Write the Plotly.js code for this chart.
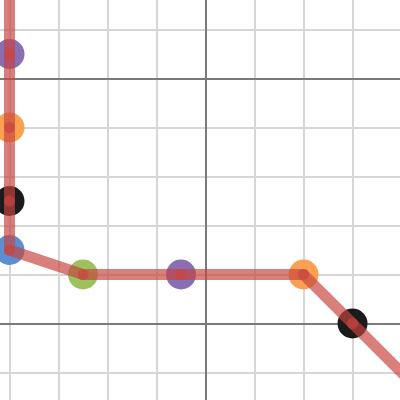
<!DOCTYPE html>
<html>
<head>
<meta charset="utf-8">
<script src="https://cdn.plot.ly/plotly-3.0.1.min.js"></script>
<style>html,body{margin:0;padding:0;background:#fff}#chart{width:400px;height:400px}</style>
</head>
<body>
<div id="chart"></div>
<script>
// Point markers
const pointX = [-4, -4, -4, -4, -2.5, -0.5, 2, 3];
const pointY = [0.5, -1, -2.5, -3.5, -4, -4, -4, -5];
const pointColors = ['#8a6eb2', '#f9a150', '#1b1b1b', '#5b8fd0', '#9dc25d', '#8a6eb2', '#f9a150', '#1b1b1b'];

// Polyline path (extends beyond the view at both ends)
const pathX = [-4, -4, -4, -4, -4, -2.5, -0.5, 2, 3, 4.6];
const pathY = [2.2, 0.5, -1, -2.5, -3.5, -4, -4, -4, -5, -6.6];

const red = 'rgba(199,68,64,0.68)';

const traces = [
  {
    x: pointX, y: pointY, type: 'scatter', mode: 'markers',
    marker: {size: 30, color: pointColors, line: {width: 0}},
    hoverinfo: 'skip', showlegend: false
  },
  {
    x: pathX, y: pathY, type: 'scatter', mode: 'lines+markers',
    line: {color: red, width: 11},
    marker: {size: 11, color: red, line: {width: 0}},
    hoverinfo: 'skip', showlegend: false
  }
];

const axisCommon = {
  showticklabels: false, ticks: '', zeroline: false, showline: false,
  dtick: 5, tick0: 0, gridcolor: '#7a7a7a', gridwidth: 2,
  minor: {dtick: 1, tick0: 0, showgrid: true, gridcolor: '#d6d6d6', gridwidth: 2, ticks: ''},
  fixedrange: true
};

const layout = {
  width: 400, height: 400,
  margin: {l: 0, r: 0, t: 0, b: 0, pad: 0},
  paper_bgcolor: '#ffffff', plot_bgcolor: '#ffffff',
  showlegend: false,
  xaxis: Object.assign({range: [-4.194, 3.969]}, axisCommon),
  yaxis: Object.assign({range: [-6.561, 1.602]}, axisCommon)
};

Plotly.newPlot('chart', traces, layout, {displayModeBar: false, staticPlot: true});
</script>
</body>
</html>
